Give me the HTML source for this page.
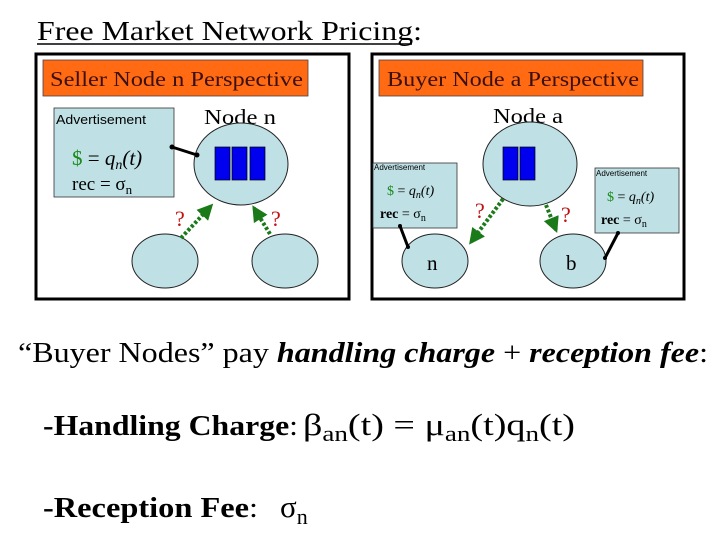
<!DOCTYPE html>
<html><head><meta charset="utf-8"><style>body{margin:0;background:#fff}svg{display:block;font-family:"Liberation Serif","Times New Roman",serif}.sans{font-family:"Liberation Sans",Arial,sans-serif}</style></head><body>
<svg width="720" height="540" xmlns="http://www.w3.org/2000/svg">
<defs>
<marker id="ah" viewBox="0 0 10 10" refX="8" refY="5" markerWidth="4" markerHeight="4" orient="auto"><path d="M0,0L10,5L0,10z" fill="#1a7a1a"/></marker>
</defs>
<text x="37" y="40" font-size="27" textLength="385" lengthAdjust="spacingAndGlyphs">Free Market Network Pricing:</text>
<line x1="37" y1="44" x2="412" y2="44" stroke="#000" stroke-width="1.5"/>

<rect x="36" y="54" width="313" height="245" fill="#fff" stroke="#000" stroke-width="3"/>
<rect x="43" y="60" width="265" height="36" fill="#ff6a13" stroke="#444" stroke-width="0.8"/>
<text x="50" y="86" font-size="21" fill="#3a1010" textLength="253" lengthAdjust="spacingAndGlyphs">Seller  Node n Perspective</text>
<rect x="54" y="108" width="120" height="89" fill="#bfe0e4" stroke="#333" stroke-width="0.8"/>
<text class="sans" x="56" y="124" font-size="13" textLength="90" lengthAdjust="spacingAndGlyphs">Advertisement</text>
<text x="72" y="165" font-size="21"><tspan fill="#1a8a1a">$</tspan> = <tspan font-style="italic">q<tspan font-size="14" dy="4">n</tspan><tspan dy="-4">(t)</tspan></tspan></text>
<text x="72" y="190" font-size="19">rec = σ<tspan font-size="13" dy="4">n</tspan></text>
<text x="204" y="124" font-size="21" textLength="72" lengthAdjust="spacingAndGlyphs">Node n</text>
<ellipse cx="241" cy="164" rx="47" ry="41" fill="#bfe0e4" stroke="#222" stroke-width="1"/>
<rect x="215" y="147" width="15" height="33" fill="#0000ee" stroke="#000" stroke-width="0.7"/>
<rect x="232" y="147" width="15" height="33" fill="#0000ee" stroke="#000" stroke-width="0.7"/>
<rect x="250" y="147" width="15" height="33" fill="#0000ee" stroke="#000" stroke-width="0.7"/>
<line x1="172" y1="147" x2="197" y2="155" stroke="#000" stroke-width="3"/>
<circle cx="172" cy="147" r="2.5"/><circle cx="197" cy="155" r="2.5"/>
<ellipse cx="165" cy="261" rx="33" ry="27" fill="#bfe0e4" stroke="#222" stroke-width="1"/>
<ellipse cx="285" cy="261" rx="33" ry="27" fill="#bfe0e4" stroke="#222" stroke-width="1"/>
<line x1="181" y1="238" x2="211" y2="206" stroke="#1a7a1a" stroke-width="4" stroke-dasharray="3,2" marker-end="url(#ah)"/>
<line x1="270" y1="234" x2="254" y2="208" stroke="#1a7a1a" stroke-width="4" stroke-dasharray="3,2" marker-end="url(#ah)"/>
<text x="175" y="226" font-size="22" fill="#c01010">?</text>
<text x="271" y="226" font-size="22" fill="#c01010">?</text>

<rect x="372" y="54" width="312" height="245" fill="#fff" stroke="#000" stroke-width="3"/>
<rect x="379" y="60" width="264" height="36" fill="#ff6a13" stroke="#444" stroke-width="0.8"/>
<text x="387" y="86" font-size="21" fill="#3a1010" textLength="252" lengthAdjust="spacingAndGlyphs">Buyer  Node a Perspective</text>
<text x="493" y="123" font-size="21" textLength="70" lengthAdjust="spacingAndGlyphs">Node a</text>
<ellipse cx="530" cy="164" rx="47" ry="42" fill="#bfe0e4" stroke="#222" stroke-width="1"/>
<rect x="503" y="147" width="15" height="33" fill="#0000ee" stroke="#000" stroke-width="0.7"/>
<rect x="520" y="147" width="15" height="33" fill="#0000ee" stroke="#000" stroke-width="0.7"/>
<rect x="373" y="163" width="84" height="65" fill="#bfe0e4" stroke="#333" stroke-width="0.8"/>
<text class="sans" x="374" y="170" font-size="8">Advertisement</text>
<text x="387" y="195" font-size="14"><tspan fill="#1a8a1a">$</tspan> = <tspan font-style="italic">q<tspan font-size="10" dy="3">n</tspan><tspan dy="-3">(t)</tspan></tspan></text>
<text x="380" y="218" font-size="14"><tspan font-weight="bold">rec</tspan> = σ<tspan font-size="10" dy="3">n</tspan></text>
<rect x="595" y="168" width="84" height="65" fill="#bfe0e4" stroke="#333" stroke-width="0.8"/>
<text class="sans" x="596" y="176" font-size="8">Advertisement</text>
<text x="607" y="201" font-size="14"><tspan fill="#1a8a1a">$</tspan> = <tspan font-style="italic">q<tspan font-size="10" dy="3">n</tspan><tspan dy="-3">(t)</tspan></tspan></text>
<text x="601" y="224" font-size="14"><tspan font-weight="bold">rec</tspan> = σ<tspan font-size="10" dy="3">n</tspan></text>
<ellipse cx="435" cy="261" rx="33" ry="27" fill="#bfe0e4" stroke="#222" stroke-width="1"/>
<ellipse cx="573" cy="261" rx="33" ry="27" fill="#bfe0e4" stroke="#222" stroke-width="1"/>
<text x="427" y="270" font-size="21">n</text>
<text x="566" y="270" font-size="21">b</text>
<line x1="400" y1="226" x2="408" y2="247" stroke="#000" stroke-width="3"/>
<circle cx="400" cy="226" r="2"/><circle cx="408" cy="247" r="2"/>
<line x1="618" y1="233" x2="605" y2="258" stroke="#000" stroke-width="3"/>
<circle cx="618" cy="233" r="2"/><circle cx="605" cy="258" r="2"/>
<line x1="503" y1="199" x2="471" y2="242" stroke="#1a7a1a" stroke-width="4" stroke-dasharray="3,2" marker-end="url(#ah)"/>
<line x1="546" y1="205" x2="556" y2="230" stroke="#1a7a1a" stroke-width="4" stroke-dasharray="3,2" marker-end="url(#ah)"/>
<text x="475" y="218" font-size="22" fill="#c01010">?</text>
<text x="561" y="222" font-size="22" fill="#c01010">?</text>

<text x="18" y="362" font-size="29" textLength="690" lengthAdjust="spacingAndGlyphs">“Buyer Nodes” pay <tspan font-weight="bold" font-style="italic">handling charge</tspan> + <tspan font-weight="bold" font-style="italic">reception fee</tspan>:</text>
<text x="43" y="435" font-size="28" textLength="255" lengthAdjust="spacingAndGlyphs"><tspan font-weight="bold">-Handling Charge</tspan>:</text>
<text x="303" y="435" font-size="31" textLength="272" lengthAdjust="spacingAndGlyphs">β<tspan font-size="22" dy="6">an</tspan><tspan dy="-6">(t) = μ</tspan><tspan font-size="22" dy="6">an</tspan><tspan dy="-6">(t)q</tspan><tspan font-size="22" dy="6">n</tspan><tspan dy="-6">(t)</tspan></text>
<text x="43" y="517" font-size="28" textLength="215" lengthAdjust="spacingAndGlyphs"><tspan font-weight="bold">-Reception Fee</tspan>:</text>
<text x="280" y="517" font-size="31">σ<tspan font-size="22" dy="7">n</tspan></text>
</svg>
</body></html>
